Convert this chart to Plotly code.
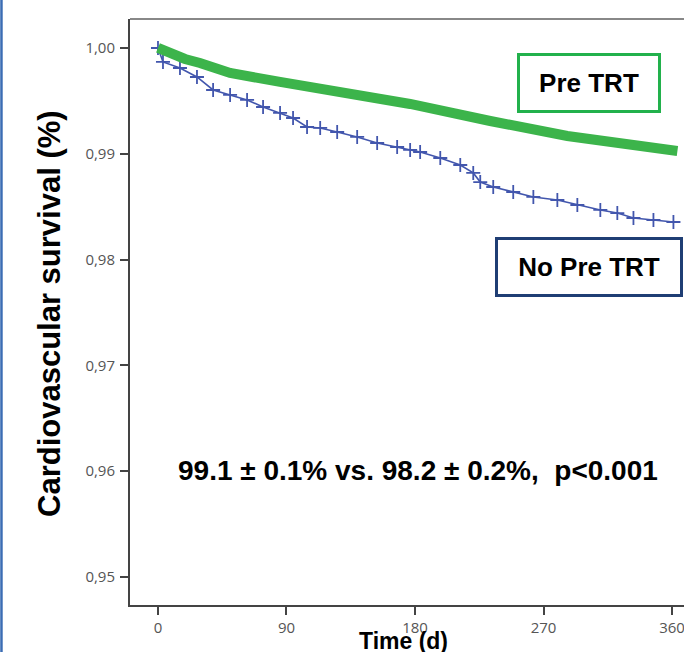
import plotly.graph_objects as go

# Data (days, survival proportion)
pre_days = [0, 8.4, 18.9, 29.4, 50.5, 85.5, 120.6, 176.6, 232.7, 286.7, 363.8]
pre_surv = [1.0000, 0.99943, 0.99896, 0.99858, 0.99764, 0.99679, 0.99603, 0.99471, 0.99310, 0.99168, 0.99026]

nopre_days = [0, 3.5, 15.4, 27.3, 38.6, 50.5, 62.4, 73.6, 85.5, 94.6, 104.4, 113.6, 125.5,
              139.5, 153.5, 167.5, 176.6, 183.6, 197.7, 211.7, 220.8, 225.7, 234.8, 248.8,
              262.9, 279.7, 293.7, 309.8, 321.7, 333.0, 347.0, 361.0]
nopre_surv = [1.0, 0.99868, 0.99811, 0.99726, 0.99603, 0.99556, 0.99509, 0.99442, 0.99386,
              0.99338, 0.99253, 0.99244, 0.99206, 0.99159, 0.99102, 0.99064, 0.99036, 0.99017,
              0.98960, 0.98894, 0.98819, 0.98733, 0.98686, 0.98639, 0.98592, 0.98563, 0.98516,
              0.98469, 0.98440, 0.98393, 0.98374, 0.98355]

x_ticks = [0, 90, 180, 270, 360]
y_ticks = [0.95, 0.96, 0.97, 0.98, 0.99, 1.00]

GREEN = "#3cb44b"
BLUE = "#4256ad"

fig = go.Figure()
fig.add_trace(go.Scatter(
    x=nopre_days, y=nopre_surv, mode="lines+markers",
    line=dict(color=BLUE, width=1.6),
    marker=dict(symbol="cross-thin-open", size=10, line=dict(color=BLUE, width=1.8)),
    showlegend=False, hoverinfo="skip"))
fig.add_trace(go.Scatter(
    x=pre_days, y=pre_surv, mode="lines",
    line=dict(color=GREEN, width=10),
    showlegend=False, hoverinfo="skip"))

tickfont = dict(family="Open Sans, DejaVu Sans", size=15, color="#555555")
fig.update_layout(
    width=684, height=652,
    margin=dict(l=130, r=0, t=19, b=47),
    paper_bgcolor="white", plot_bgcolor="white",
    separators=",.",
    xaxis=dict(range=[-19.6, 368.4], tickvals=x_ticks, showline=True, linecolor="#444444",
               linewidth=2, ticks="outside", ticklen=8, tickwidth=2, tickcolor="#444444",
               showgrid=False, zeroline=False, tickfont=tickfont, ticklabeloverflow="allow",
               automargin=False),
    yaxis=dict(range=[0.94735, 1.00274], tickvals=y_ticks, tickformat=".2f", showline=True,
               linecolor="#444444", linewidth=2, ticks="outside", ticklen=8, tickwidth=2,
               tickcolor="#444444", showgrid=False, zeroline=False, tickfont=tickfont,
               ticklabelstandoff=2),
    font=dict(family="Liberation Sans, Arial", color="black"),
    shapes=[
        dict(type="line", xref="paper", yref="paper", x0=0, x1=1, y0=1, y1=1,
             line=dict(color="#888888", width=2)),
        dict(type="line", xref="paper", yref="paper", x0=-0.2320, x1=-0.2320, y0=-0.09, y1=1.04,
             line=dict(color="#3b6db4", width=2.5)),
    ],
    annotations=[
        dict(text="<b>Cardiovascular survival (%)</b>", xref="paper", yref="paper",
             x=-0.1444, y=0.4966, textangle=-90, showarrow=False,
             font=dict(size=31, color="black"), xanchor="center", yanchor="middle"),
        dict(text="<b>Time (d)</b>", xref="paper", yref="paper", x=0.4928, y=-0.0615,
             showarrow=False, font=dict(size=23, color="black"),
             xanchor="center", yanchor="middle"),
        dict(text="<b>99.1 ± 0.1% vs. 98.2 ± 0.2%,  p&lt;0.001</b>", xref="paper", yref="paper",
             x=0.519, y=0.2287, showarrow=False, font=dict(size=28, color="black"),
             xanchor="center", yanchor="middle"),
        dict(text="<b>Pre TRT</b>", xref="paper", yref="paper", x=0.8285, y=0.8916,
             showarrow=False, font=dict(size=26, color="black"), xanchor="center",
             yanchor="middle", width=138, height=54, bordercolor="#22b14c", borderwidth=3,
             borderpad=0, bgcolor="white"),
        dict(text="<b>No Pre TRT</b>", xref="paper", yref="paper", x=0.8285, y=0.5768,
             showarrow=False, font=dict(size=26, color="black"), xanchor="center",
             yanchor="middle", width=182, height=54, bordercolor="#1f3e74", borderwidth=3,
             borderpad=0, bgcolor="white"),
    ],
)

fig.write_html(
    "out.html",
    config={"displayModeBar": False},
    post_script="document.body.style.margin='0';document.body.style.overflow='hidden';",
)
